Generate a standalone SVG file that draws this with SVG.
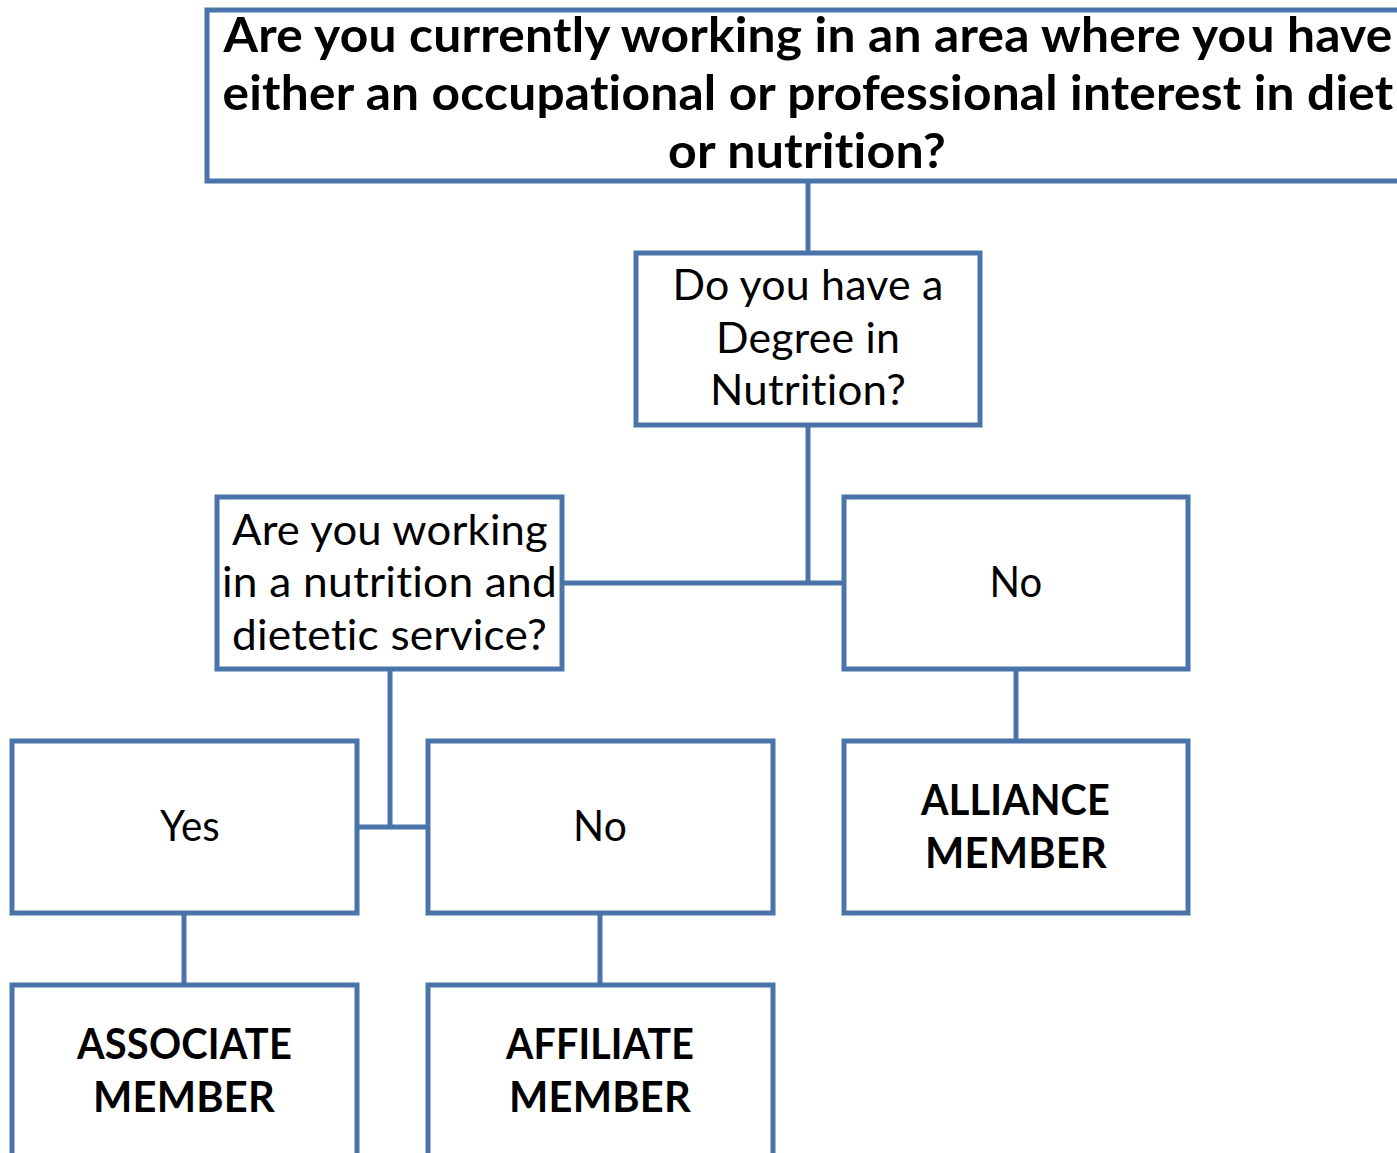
<svg xmlns="http://www.w3.org/2000/svg" width="1397" height="1153" viewBox="0 0 1397 1153">
<style>
.box{fill:#fff;stroke:#4a74a9;stroke-width:5}
.ln{fill:none;stroke:#4a74a9;stroke-width:5}
text{font-family:Lato,"Open Sans","Liberation Sans",sans-serif;fill:#000;text-anchor:middle;font-variant-ligatures:none;font-feature-settings:"liga" 0,"clig" 0,"dlig" 0,"calt" 0;letter-spacing:0.2px}
.b{font-weight:bold}
.t1{font-size:47px}
.t2{font-size:42px}
</style>
<rect width="1397" height="1153" fill="#fff"/>
<g id="connectors">
<path class="ln" d="M808 181V253"/>
<path class="ln" d="M808 426V583M562 583H844"/>
<path class="ln" d="M390 669V827M357 827H428"/>
<path class="ln" d="M1016 669V741"/>
<path class="ln" d="M184 913V985"/>
<path class="ln" d="M600 913V985"/>
</g>
<g id="q1">
<rect class="box" x="207" y="10" width="1204" height="171"/>
<text class="b t1" x="808" y="52" textLength="1169" lengthAdjust="spacingAndGlyphs">Are you currently working in an area where you have</text>
<text class="b t1" x="808" y="110" textLength="1171" lengthAdjust="spacingAndGlyphs">either an occupational or professional interest in diet</text>
<text class="b t1" x="807" y="168" textLength="278" lengthAdjust="spacingAndGlyphs">or nutrition?</text>
</g>
<g id="q2">
<rect class="box" x="636" y="253" width="344" height="172"/>
<text class="t2" x="808" y="300" textLength="271" lengthAdjust="spacingAndGlyphs">Do you have a</text>
<text class="t2" x="808" y="353" textLength="184" lengthAdjust="spacingAndGlyphs">Degree in</text>
<text class="t2" x="808" y="405" textLength="196" lengthAdjust="spacingAndGlyphs">Nutrition?</text>
</g>
<g id="q3">
<rect class="box" x="217" y="497" width="345" height="172"/>
<text class="t2" x="390" y="545" textLength="316" lengthAdjust="spacingAndGlyphs">Are you working</text>
<text class="t2" x="389.5" y="597" textLength="335" lengthAdjust="spacingAndGlyphs">in a nutrition and</text>
<text class="t2" x="389.5" y="650" textLength="315" lengthAdjust="spacingAndGlyphs">dietetic service?</text>
</g>
<g id="no1">
<rect class="box" x="844" y="497" width="344" height="172"/>
<text class="t2" x="1016" y="597" textLength="53" lengthAdjust="spacingAndGlyphs">No</text>
</g>
<g id="yes">
<rect class="box" x="12" y="741" width="345" height="172"/>
<text class="t2" x="190" y="841" textLength="60" lengthAdjust="spacingAndGlyphs">Yes</text>
</g>
<g id="no2">
<rect class="box" x="428" y="741" width="345" height="172"/>
<text class="t2" x="600" y="841" textLength="54" lengthAdjust="spacingAndGlyphs">No</text>
</g>
<g id="alliance">
<rect class="box" x="844" y="741" width="344" height="172"/>
<text class="b t2" x="1015.5" y="815" textLength="189" lengthAdjust="spacingAndGlyphs">ALLIANCE</text>
<text class="b t2" x="1016" y="868" textLength="182" lengthAdjust="spacingAndGlyphs">MEMBER</text>
</g>
<g id="associate">
<rect class="box" x="12" y="985" width="345" height="200"/>
<text class="b t2" x="184.5" y="1059" textLength="215" lengthAdjust="spacingAndGlyphs">ASSOCIATE</text>
<text class="b t2" x="184" y="1112" textLength="182" lengthAdjust="spacingAndGlyphs">MEMBER</text>
</g>
<g id="affiliate">
<rect class="box" x="428" y="985" width="345" height="200"/>
<text class="b t2" x="600" y="1059" textLength="188" lengthAdjust="spacingAndGlyphs">AFFILIATE</text>
<text class="b t2" x="600" y="1112" textLength="182" lengthAdjust="spacingAndGlyphs">MEMBER</text>
</g>
</svg>
